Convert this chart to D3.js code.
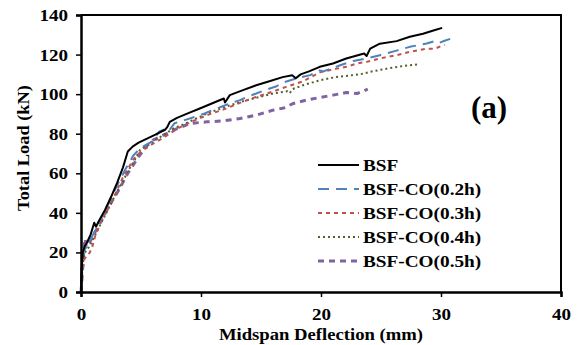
<!DOCTYPE html>
<html>
<head>
<meta charset="utf-8">
<script src="https://cdn.jsdelivr.net/npm/d3@7/dist/d3.min.js"></script>
<style>
  body { margin: 0; background: #fff; }
  text { font-family: "Liberation Serif", "Times New Roman", serif; font-weight: bold; }
</style>
</head>
<body>
<div id="chartArea"></div>
<script>
// series data: deflection (mm) and load (kN)
var bsfX = [0, 0.05, 0.15, 0.3, 0.5, 0.8, 1.0, 1.1, 1.25, 1.5, 2.0, 2.5, 3.0, 3.5, 3.9, 4.3, 4.8, 5.5, 6.2, 7.0, 7.2, 7.4, 8.0, 9.0, 10.0, 11.0, 11.9, 12.0, 12.4, 13.5, 14.6, 15.7, 16.8, 17.6, 17.9, 18.3, 19.0, 19.9, 21.0, 22.1, 23.0, 23.6, 23.8, 24.1, 24.9, 26.3, 27.4, 28.5, 29.3, 30.1];
var bsfY = [0, 12, 20, 23, 25, 29, 33, 35, 33, 36, 41.5, 48, 55, 63, 71, 73.5, 75.5, 77.5, 79.5, 82, 83.5, 86, 88, 90.5, 93, 95.5, 97.8, 95.8, 99.5, 102, 104.5, 106.5, 108.6, 109.5, 108, 110, 111.5, 113.8, 115.5, 118, 119.5, 120.5, 119.3, 123, 125.5, 126.8, 129, 130.5, 132, 133.5];

var co02X = [0, 0.1, 0.25, 0.5, 1.0, 1.5, 2.0, 2.55, 3.1, 3.7, 4.36, 5.0, 5.9, 6.5, 6.9, 7.2, 7.8, 8.7, 9.5, 10.3, 11.0, 11.7, 12.4, 13.25, 14.0, 14.6, 15.5, 16.3, 16.9, 18.0, 19.1, 19.9, 20.2, 21.6, 22.7, 23.8, 24.9, 26.3, 27.4, 28.8, 29.6, 29.9, 30.3, 31.3];
var co02Y = [0, 15, 21, 23, 29, 35, 41, 48, 55, 62, 69, 73, 76, 81, 82, 80.5, 85.3, 87, 88.5, 90.2, 92, 93.6, 95.3, 97, 99, 100.3, 102.4, 104, 106, 108, 109.6, 112, 111.5, 114.6, 116.8, 118, 119.7, 122, 123.9, 125.6, 127, 126, 127, 129];

var co03X = [0, 0.1, 0.3, 0.6, 0.9, 1.17, 1.7, 2.3, 2.9, 3.5, 4.36, 5.0, 6.0, 7.0, 8.0, 9.0, 10.5, 11.9, 13.0, 14.3, 15.5, 16.3, 17.1, 18.5, 19.9, 21.3, 22.1, 23.0, 23.8, 24.9, 26.3, 27.4, 28.8, 29.5, 30.3];
var co03Y = [0, 10, 17, 18.5, 22, 28, 36, 43, 50, 58, 67, 71, 75, 78.5, 82.5, 85.5, 89.4, 92.3, 95, 98, 100.3, 102, 103.7, 106.5, 111, 112.9, 113.8, 115.5, 116.3, 118, 119.7, 121.4, 123, 123, 125];

var co04X = [0, 0.1, 0.3, 0.5, 0.75, 1.2, 1.86, 2.6, 3.4, 4.0, 4.5, 4.9, 6.0, 7.7, 9.0, 10.5, 12.0, 13.25, 14.5, 16.0, 17.2, 17.4, 17.6, 18.5, 19.9, 21.3, 23.25, 24.1, 25.5, 26.9, 28.0];
var co04Y = [0, 12, 20, 21, 23.7, 29, 37, 46, 55, 62, 67, 71.7, 76, 82.6, 86, 90.2, 93.5, 96, 98, 100.3, 101.5, 100.5, 102.5, 104.5, 107, 108.7, 110, 111.3, 112.9, 114.3, 115];

var co05X = [0, 0.1, 0.2, 0.33, 0.45, 0.8, 1.5, 2.3, 3.1, 3.9, 4.8, 5.5, 6.0, 6.6, 8.0, 9.1, 10.5, 11.9, 13.25, 14.6, 16.0, 16.9, 17.7, 18.8, 19.9, 21.0, 22.1, 23.0, 23.9];
var co05Y = [0, 8, 18, 27, 23, 26, 34, 43, 51, 60, 68.3, 74, 76.8, 78.5, 82.6, 85.2, 86, 86.5, 87.7, 89.4, 91.9, 93, 95.3, 97, 98.3, 99.5, 100.8, 100.3, 102.5];

var seriesNames = ['BSF', 'BSF-CO(0.2h)', 'BSF-CO(0.3h)', 'BSF-CO(0.4h)', 'BSF-CO(0.5h)'];
var xTicks = [0, 10, 20, 30, 40];
var yTicks = [0, 20, 40, 60, 80, 100, 120, 140];

var w = 581, h = 345;
var margin = {left: 81, right: 20, top: 15, bottom: 53};

var svg = d3.select('#chartArea').append('svg')
    .attr('width', w)
    .attr('height', h);

var xScale = d3.scaleLinear()
    .domain([0, 40])
    .range([margin.left, w - margin.right]);

var yScale = d3.scaleLinear()
    .domain([0, 140])
    .range([h - margin.bottom, margin.top]);

var styles = [
    {color: '#000000', dash: null, width: 2},
    {color: '#4f81bd', dash: '11,7', width: 2},
    {color: '#c0504d', dash: '4,4', width: 2},
    {color: '#4f6228', dash: '2,3', width: 2},
    {color: '#8064a2', dash: '6,5', width: 3}
];

var series = [
    [bsfX, bsfY], [co02X, co02Y], [co03X, co03Y], [co04X, co04Y], [co05X, co05Y]
].map(function (s, i) {
    return {
        name: seriesNames[i],
        style: styles[i],
        points: s[0].map(function (x, j) { return [x, s[1][j]]; })
    };
});

var line = d3.line()
    .x(function (d) { return xScale(d[0]); })
    .y(function (d) { return yScale(d[1]); });

// the original's lettering is a bit wider than plain Times, stretch it
function widen(sel, k) {
    sel.each(function () {
        var len = this.getComputedTextLength();
        d3.select(this)
            .attr('textLength', len * k)
            .attr('lengthAdjust', 'spacingAndGlyphs');
    });
}

// plot frame (top and right)
svg.append('path')
    .attr('d', 'M' + xScale(0) + ',' + yScale(140) + 'H' + xScale(40) + 'V' + yScale(0))
    .attr('fill', 'none')
    .attr('stroke', '#000')
    .attr('stroke-width', 2);

// draw series in reverse so BSF ends on top
series.slice().reverse().forEach(function (s) {
    svg.append('path')
        .datum(s.points)
        .attr('d', line)
        .attr('fill', 'none')
        .attr('stroke', s.style.color)
        .attr('stroke-width', s.style.width)
        .attr('stroke-dasharray', s.style.dash)
        .attr('stroke-linejoin', 'round');
});

var xAxis = svg.append('g')
    .attr('transform', 'translate(0,' + yScale(0) + ')')
    .call(d3.axisBottom(xScale).tickValues(xTicks).tickSize(5).tickPadding(11));

var yAxis = svg.append('g')
    .attr('transform', 'translate(' + xScale(0) + ',0)')
    .call(d3.axisLeft(yScale).tickValues(yTicks).tickSize(5).tickPadding(8));

[xAxis, yAxis].forEach(function (g) {
    g.attr('font-family', null).attr('font-size', null);
    g.select('.domain').attr('stroke-width', 2.5);
    g.selectAll('.tick line').attr('stroke-width', 1.5);
    g.selectAll('.tick text')
        .style('font-size', '17px')
        .attr('fill', '#000')
        .call(widen, 1.12);
});

svg.append('text')
    .attr('x', xScale(20))
    .attr('y', 340)
    .attr('text-anchor', 'middle')
    .style('font-size', '16.5px')
    .text('Midspan Deflection (mm)')
    .call(widen, 1.13);

svg.append('text')
    .attr('transform', 'translate(29,148) rotate(-90)')
    .attr('text-anchor', 'middle')
    .style('font-size', '17px')
    .text('Total Load (kN)')
    .call(widen, 1.08);

svg.append('text')
    .attr('x', 489)
    .attr('y', 118)
    .attr('text-anchor', 'middle')
    .style('font-size', '31px')
    .text('(a)');

// legend
var legend = svg.append('g').attr('transform', 'translate(318,165)');
series.forEach(function (s, i) {
    var row = legend.append('g').attr('transform', 'translate(0,' + (i * 24) + ')');
    row.append('line')
        .attr('x1', 0).attr('x2', 41)
        .attr('y1', 0).attr('y2', 0)
        .attr('stroke', s.style.color)
        .attr('stroke-width', s.style.width)
        .attr('stroke-dasharray', s.style.dash);
    row.append('text')
        .attr('x', 45)
        .attr('y', 6)
        .style('font-size', '17.5px')
        .text(s.name)
        .call(widen, 1.1);
});
</script>
</body>
</html>
